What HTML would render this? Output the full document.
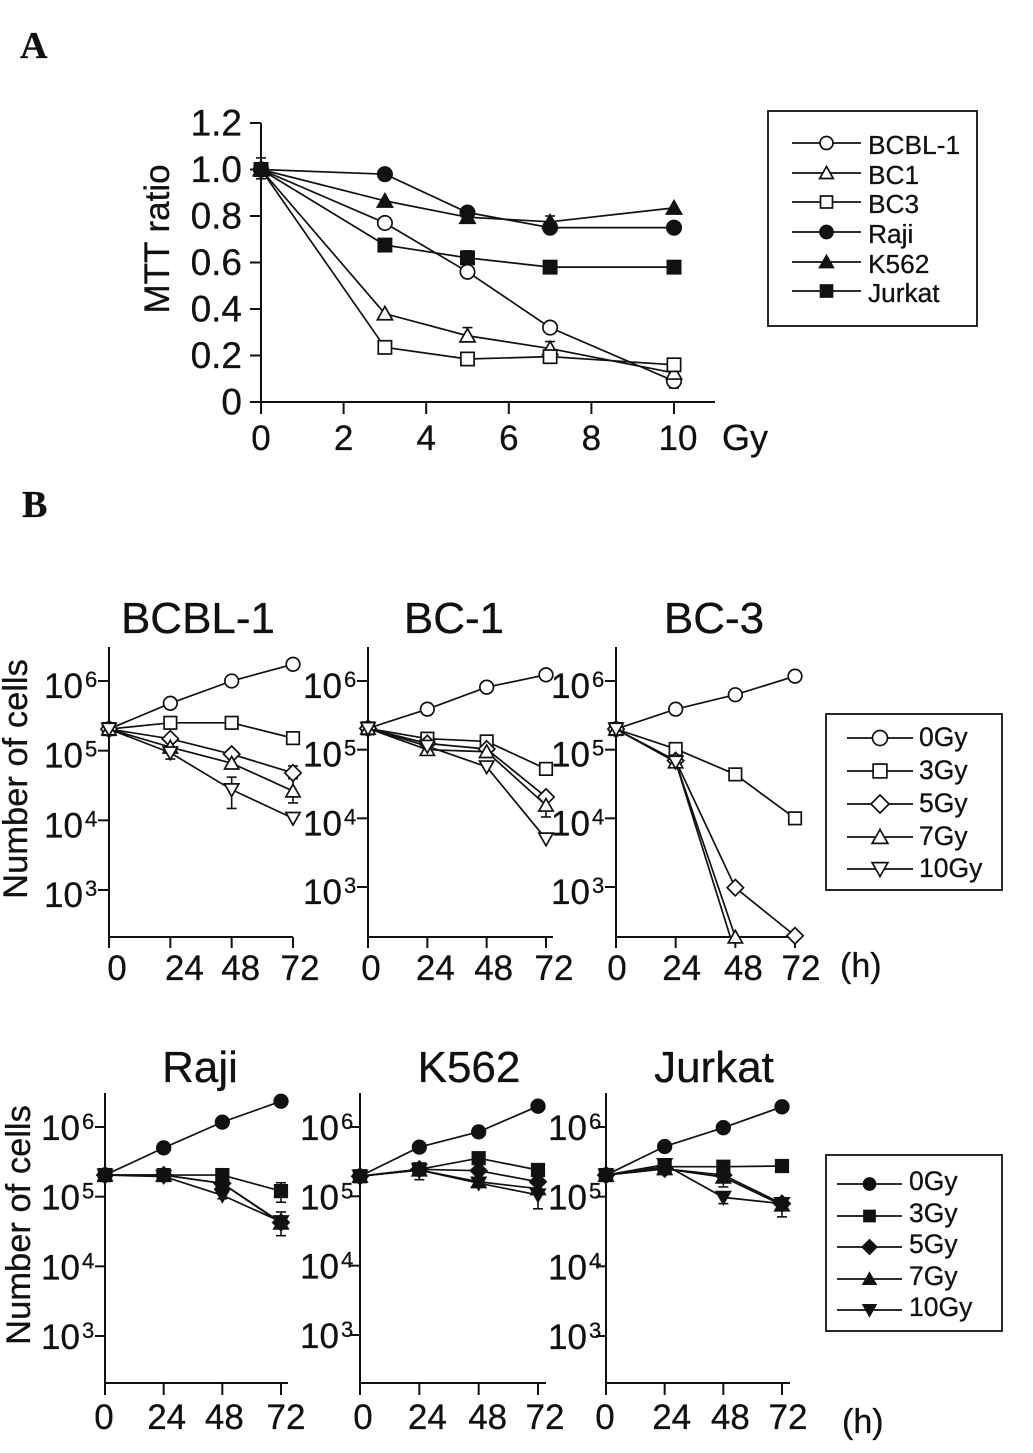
<!DOCTYPE html>
<html lang="en">
<head>
<meta charset="utf-8">
<title>MTT ratio and cell growth after irradiation</title>
<style>
html,body{margin:0;padding:0;background:#fff;}
svg{display:block;}
text{font-family:"Liberation Sans",Arial,sans-serif;fill:#111;stroke:#111;stroke-width:.3;}
text.letter{font-family:"Liberation Serif",serif;font-weight:bold;}
</style>
</head>
<body>
<svg id="figure" width="1033" height="1453" viewBox="0 0 1033 1453" xmlns="http://www.w3.org/2000/svg"></svg>
<script>
// ---------- Panel A data ----------
const doseCategories = [0, 3, 5, 7, 10];
const doseTicks = [0, 2, 4, 6, 8, 10];
const mttTicks = [0, 0.2, 0.4, 0.6, 0.8, 1.0, 1.2];
const mttTickLabels = ['0', '0.2', '0.4', '0.6', '0.8', '1.0', '1.2'];
const cellLineNames = ['BCBL-1', 'BC1', 'BC3', 'Raji', 'K562', 'Jurkat'];
const mttBCBL1 = [1.0, 0.77, 0.56, 0.32, 0.09];
const mttBC1 = [1.0, 0.38, 0.285, 0.23, 0.125];
const mttBC3 = [1.0, 0.235, 0.185, 0.195, 0.16];
const mttRaji = [1.0, 0.98, 0.815, 0.75, 0.75];
const mttK562 = [1.0, 0.865, 0.795, 0.775, 0.835];
const mttJurkat = [1.0, 0.675, 0.62, 0.58, 0.58];

// ---------- Panel B data: log10(number of cells); rows are 0, 3, 5, 7, 10 Gy ----------
const hourTicks = [0, 24, 48, 72];
const decadeExponents = [6, 5, 4, 3];
const doseNames = ['0Gy', '3Gy', '5Gy', '7Gy', '10Gy'];
const seriesBCBL1 = [[5.31, 5.68, 6.0, 6.24], [5.31, 5.40, 5.40, 5.18], [5.31, 5.17, 4.95, 4.68], [5.31, 5.05, 4.82, 4.42], [5.31, 4.97, 4.44, 4.03]];
const seriesBC1 = [[5.31, 5.59, 5.91, 6.09], [5.31, 5.16, 5.12, 4.72], [5.31, 5.09, 5.01, 4.31], [5.31, 5.0, 4.97, 4.19], [5.31, 5.05, 4.75, 3.70]];
const seriesBC3 = [[5.30, 5.59, 5.80, 6.07], [5.30, 5.01, 4.64, 4.0], [5.30, 4.84, 2.99, 2.29], [5.30, 4.82, 2.27], [5.30, 4.82, 2.27]];
const seriesRaji = [[5.31, 5.70, 6.07, 6.37], [5.31, 5.31, 5.31, 5.08], [5.31, 5.31, 5.19, 4.63], [5.31, 5.31, 5.19, 4.62], [5.31, 5.29, 5.02, 4.64]];
const seriesK562 = [[5.29, 5.71, 5.93, 6.30], [5.29, 5.39, 5.55, 5.38], [5.29, 5.39, 5.37, 5.21], [5.29, 5.38, 5.21, 5.11], [5.29, 5.38, 5.19, 5.02]];
const seriesJurkat = [[5.31, 5.72, 5.99, 6.29], [5.31, 5.43, 5.43, 5.44], [5.31, 5.40, 5.31, 4.90], [5.31, 5.40, 5.28, 4.88], [5.31, 5.46, 4.99, 4.90]];

// Error bars: [series index, category index, low, high] in data units
const errorsMTT = [[3, 0, 0.96, 1.05], [1, 2, 0.26, 0.32], [1, 3, 0.2, 0.26], [0, 4, 0.06, 0.12], [5, 2, 0.6, 0.65], [4, 3, 0.75, 0.8]];
const errorsBCBL1 = [[4, 2, 4.17, 4.62], [3, 3, 4.25, 4.6], [2, 3, 4.6, 4.78], [4, 1, 4.88, 5.03]];
const errorsBC1 = [[3, 3, 4.02, 4.3]];
const errorsBC3 = [];
const errorsRaji = [[1, 3, 4.92, 5.2], [2, 3, 4.44, 4.78], [4, 2, 4.97, 5.1]];
const errorsK562 = [[4, 3, 4.82, 5.1], [4, 1, 5.24, 5.4]];
const errorsJurkat = [[3, 2, 5.14, 5.3], [3, 3, 4.71, 4.95], [4, 2, 4.9, 5.05]];

const NS = 'http://www.w3.org/2000/svg';
const root = document.getElementById('figure');

function make(parent, tag, attrs, name) {
  const el = document.createElementNS(NS, tag);
  for (const k in attrs) el.setAttribute(k, attrs[k]);
  
  
  parent.appendChild(el);
  return el;
}
function line(parent, x1, y1, x2, y2, w, name) {
  return make(parent, 'line', {x1: x1, y1: y1, x2: x2, y2: y2, stroke: '#111', 'stroke-width': w}, name);
}
function label(parent, x, y, str, size, anchor, name, cls) {
  const attrs = {x: x, y: y, 'font-size': size, 'text-anchor': anchor || 'start'};
  if (cls) attrs['class'] = cls;
  const el = make(parent, 'text', attrs, name);
  el.textContent = str;
  return el;
}
function marker(parent, shape, filled, cx, cy, s, name) {
  const style = {fill: filled ? '#111' : '#fff', stroke: '#111', 'stroke-width': 1.7};
  const attrs = Object.assign({}, style);
  let tag = 'polygon';
  if (shape === 'circle') { tag = 'circle'; attrs.cx = cx; attrs.cy = cy; attrs.r = s; }
  else if (shape === 'square') { tag = 'rect'; attrs.x = cx - s * 0.92; attrs.y = cy - s * 0.92; attrs.width = s * 1.84; attrs.height = s * 1.84; }
  else {
    let pts;
    if (shape === 'diamond') pts = [[0, -s * 1.2], [s * 1.2, 0], [0, s * 1.2], [-s * 1.2, 0]];
    else if (shape === 'up') pts = [[0, -s], [s * 1.05, s * 0.85], [-s * 1.05, s * 0.85]];
    else pts = [[0, s], [s * 1.05, -s * 0.85], [-s * 1.05, -s * 0.85]];
    attrs.points = pts.map(function (p) { return (cx + p[0]) + ',' + (cy + p[1]); }).join(' ');
  }
  return make(parent, tag, attrs, name);
}
function errorBar(parent, x, yLow, yHigh, name) {
  const g = make(parent, 'g', {}, name);
  line(g, x, yLow, x, yHigh, 1.6, 'error-stem');
  line(g, x - 5, yLow, x + 5, yLow, 1.6, 'error-cap-low');
  line(g, x - 5, yHigh, x + 5, yHigh, 1.6, 'error-cap-high');
}
function legend(box, entries, lineX, textX, size, textDy, s) {
  const g = make(root, 'g', {}, box.name);
  make(g, 'rect', {x: box.x, y: box.y, width: box.w, height: box.h, fill: '#fff', stroke: '#111', 'stroke-width': 1.8}, 'legend-box');
  entries.forEach(function (e) {
    const eg = make(g, 'g', {}, 'legend-entry');
    line(eg, lineX[0], e.y, lineX[1], e.y, 1.7, 'legend-line');
    marker(eg, e.shape, e.filled, (lineX[0] + lineX[1]) / 2, e.y, s, 'legend-marker');
    label(eg, textX, e.y + textDy, e.text, size, 'start', 'legend-label');
  });
}

// ---------- Panel A ----------
const aX = function (gy) { return 261 + gy * 41.3; };
const aY = function (m) { return 402 - m * 232.5; };
label(root, 20, 58, 'A', 38, 'start', 'panel-a-letter', 'letter');
label(root, 22, 517, 'B', 38, 'start', 'panel-b-letter', 'letter');

const chartA = make(root, 'g', {}, 'mtt-chart');
line(chartA, 261, aY(1.2), 261, 414, 2, 'y-axis');
line(chartA, 250, 402, 715, 402, 2, 'x-axis');
mttTicks.forEach(function (t, i) {
  line(chartA, 250, aY(t), 261, aY(t), 2, 'y-tick');
  label(chartA, 242, aY(t) + 12.5, mttTickLabels[i], 37, 'end', 'y-tick-label');
});
doseTicks.forEach(function (t) {
  line(chartA, aX(t), 402, aX(t), 414, 2, 'x-tick');
  label(chartA, aX(t) + (t === 10 ? 4 : 0), 450, String(t), 35, 'middle', 'x-tick-label');
});
label(chartA, 722, 450, 'Gy', 36, 'start', 'x-axis-unit');
const mttTitle = label(chartA, 0, 0, 'MTT ratio', 35, 'middle', 'y-axis-title');
mttTitle.setAttribute('transform', 'translate(169 239) rotate(-90)');

const mttSeries = [mttBCBL1, mttBC1, mttBC3, mttRaji, mttK562, mttJurkat];
const mttShapes = [['circle', false], ['up', false], ['square', false], ['circle', true], ['up', true], ['square', true]];
errorsMTT.forEach(function (e) {
  errorBar(chartA, aX(doseCategories[e[1]]), aY(e[2]), aY(e[3]), 'mtt-error-bar');
});
mttSeries.forEach(function (vals, i) {
  const g = make(chartA, 'g', {}, 'series-' + cellLineNames[i].toLowerCase());
  const pts = vals.map(function (v, j) { return aX(doseCategories[j]) + ',' + aY(v); }).join(' ');
  make(g, 'polyline', {points: pts, fill: 'none', stroke: '#111', 'stroke-width': 1.7}, 'series-line');
  vals.forEach(function (v, j) {
    marker(g, mttShapes[i][0], mttShapes[i][1], aX(doseCategories[j]), aY(v), 7.2, 'series-point');
  });
});
legend({name: 'cell-line-legend', x: 768, y: 111, w: 209, h: 215},
  [143, 173, 202, 232, 262, 291].map(function (y, i) {
    return {y: y, shape: mttShapes[i][0], filled: mttShapes[i][1], text: cellLineNames[i]};
  }), [792, 861], 868, 26.3, 11, 6.5);

// ---------- Panel B ----------
const doseShapes = ['circle', 'square', 'diamond', 'up', 'down'];

function growthPanel(cfg) {
  const g = make(root, 'g', {}, cfg.name);
  const x = function (h) { return cfg.x0 + h * (cfg.x72 - cfg.x0) / 72; };
  const decade = (cfg.y3 - cfg.y6) / 3;
  const y = function (v) { return cfg.y6 + (6 - v) * decade; };
  label(g, cfg.titleX, cfg.titleY, cfg.title, 44, 'middle', 'panel-title');
  line(g, cfg.x0, cfg.top, cfg.x0, cfg.tickBottom, 2, 'y-axis');
  line(g, cfg.x0, cfg.bottom, cfg.axisEnd, cfg.bottom, 2, 'x-axis');
  decadeExponents.forEach(function (d) {
    line(g, cfg.x0 - cfg.tickLen, y(d), cfg.x0, y(d), 2, 'y-tick');
    const tickGroup = make(g, 'g', {}, 'y-tick-label');
    label(tickGroup, cfg.labelX, y(d) + cfg.baseDy, '10', 35, 'start', 'y-tick-base');
    label(tickGroup, cfg.labelX + 41, y(d) + cfg.baseDy - 11, String(d), 22, 'start', 'y-tick-exponent');
  });
  hourTicks.forEach(function (h, i) {
    if (h > 0) line(g, x(h), cfg.bottom, x(h), cfg.tickBottom, 2, 'x-tick');
    label(g, x(h) + cfg.xLabelShift[i], cfg.xLabelY, String(h), 35, 'middle', 'x-tick-label');
  });
  cfg.errors.forEach(function (e) {
    errorBar(g, x(hourTicks[e[1]]), y(e[2]), y(e[3]), 'error-bar');
  });
  cfg.series.forEach(function (vals, i) {
    const sg = make(g, 'g', {}, 'series-' + doseNames[i].toLowerCase());
    const hrs = (cfg.hoursOverride && cfg.hoursOverride[i]) || hourTicks;
    const pts = vals.map(function (v, j) { return x(hrs[j]) + ',' + y(v); }).join(' ');
    make(sg, 'polyline', {points: pts, fill: 'none', stroke: '#111', 'stroke-width': 1.7}, 'series-line');
    vals.forEach(function (v, j) {
      if (cfg.hideLast && cfg.hideLast[i] && j === vals.length - 1) return;
      marker(sg, doseShapes[i], cfg.filled, x(hrs[j]), y(v), 6.8, 'series-point');
    });
  });
}

const row1 = {top: 647, bottom: 937, tickBottom: 948, titleY: 633, xLabelY: 980, tickLen: 11, baseDy: 17, filled: false};
const row2 = {top: 1093, bottom: 1383, tickBottom: 1395, titleY: 1082, xLabelY: 1429, tickLen: 10, baseDy: 13, filled: true};

growthPanel(Object.assign({}, row1, {name: 'panel-bcbl-1', title: 'BCBL-1', titleX: 198, x0: 109, x72: 293, axisEnd: 293, y6: 681, y3: 890, labelX: 44, xLabelShift: [8, 14, 9, 7], series: seriesBCBL1, errors: errorsBCBL1}));
growthPanel(Object.assign({}, row1, {name: 'panel-bc-1', title: 'BC-1', titleX: 454, x0: 368, x72: 546, axisEnd: 553, y6: 681, y3: 887, labelX: 303, xLabelShift: [3, 8, 7, 8], series: seriesBC1, errors: errorsBC1}));
growthPanel(Object.assign({}, row1, {name: 'panel-bc-3', title: 'BC-3', titleX: 714, x0: 616, x72: 795, axisEnd: 802, y6: 681, y3: 887, labelX: 551, xLabelShift: [1, 6, 8, 6], series: seriesBC3, errors: errorsBC3, hoursOverride: {4: [0, 24, 46]}, hideLast: {4: true}}));
growthPanel(Object.assign({}, row2, {name: 'panel-raji', title: 'Raji', titleX: 200, x0: 105, x72: 281, axisEnd: 288, y6: 1127, y3: 1336, labelX: 41, xLabelShift: [-1, 3, 2, 5], series: seriesRaji, errors: errorsRaji}));
growthPanel(Object.assign({}, row2, {name: 'panel-k562', title: 'K562', titleX: 469, x0: 360, x72: 538, axisEnd: 546, y6: 1127, y3: 1335, labelX: 300, xLabelShift: [3, 8, 9, 7], series: seriesK562, errors: errorsK562}));
growthPanel(Object.assign({}, row2, {name: 'panel-jurkat', title: 'Jurkat', titleX: 714, x0: 606, x72: 782, axisEnd: 790, y6: 1127, y3: 1336, labelX: 548, xLabelShift: [-1, 7, 7, 6], series: seriesJurkat, errors: errorsJurkat}));

const numCells1 = label(root, 0, 0, 'Number of cells', 34.5, 'middle', 'y-axis-title-top');
numCells1.setAttribute('transform', 'translate(27 779) rotate(-90)');
const numCells2 = label(root, 0, 0, 'Number of cells', 34.5, 'middle', 'y-axis-title-bottom');
numCells2.setAttribute('transform', 'translate(30 1225) rotate(-90)');
label(root, 840, 977, '(h)', 34, 'start', 'x-axis-unit-top');
label(root, 842, 1433, '(h)', 34, 'start', 'x-axis-unit-bottom');

legend({name: 'open-dose-legend', x: 826, y: 714, w: 176, h: 176},
  [738, 771, 804, 837, 869].map(function (y, i) {
    return {y: y, shape: doseShapes[i], filled: false, text: doseNames[i]};
  }), [847, 913], 919, 26.5, 8, 7.5);
legend({name: 'filled-dose-legend', x: 826, y: 1155, w: 176, h: 176},
  [1184, 1216, 1247, 1279, 1310].map(function (y, i) {
    return {y: y, shape: doseShapes[i], filled: true, text: doseNames[i]};
  }), [837, 902], 909, 26.5, 6, 6);
</script>
</body>
</html>
